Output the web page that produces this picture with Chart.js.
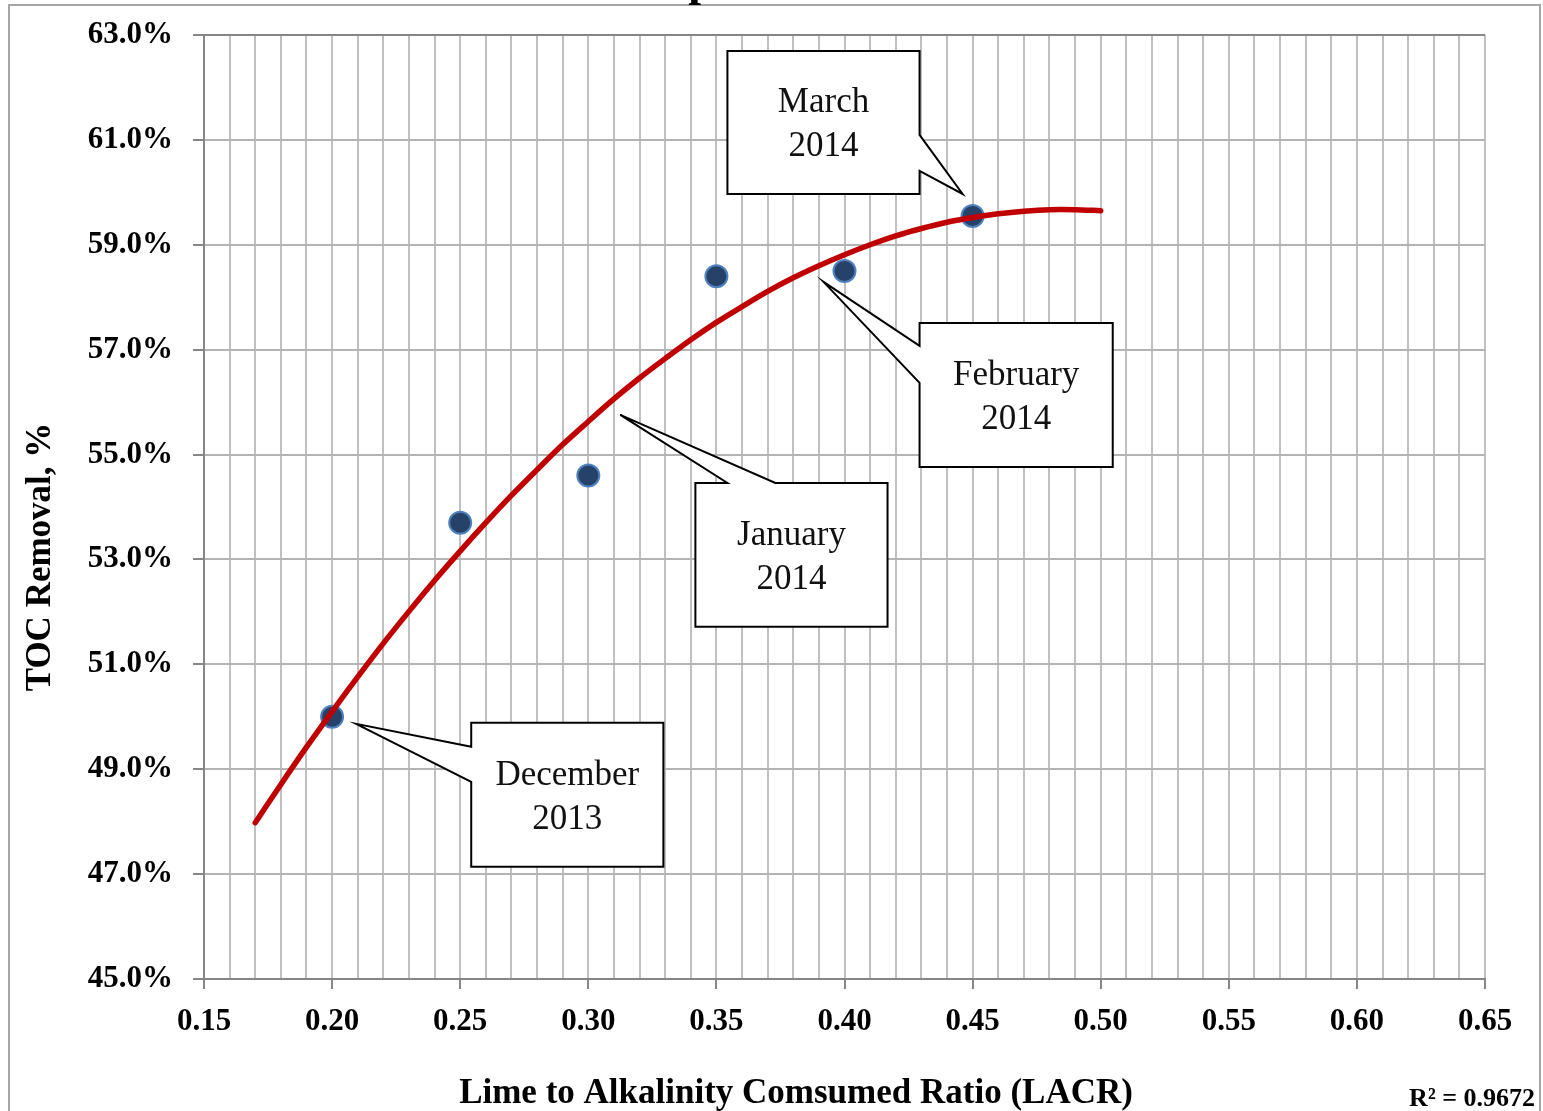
<!DOCTYPE html>
<html>
<head>
<meta charset="utf-8">
<script src="https://cdn.jsdelivr.net/npm/chart.js@4.4.1/dist/chart.umd.min.js"></script>
<style>
  html, body { margin: 0; padding: 0; background: #ffffff; }
  canvas { display: block; }
</style>
</head>
<body>
<canvas id="chart" width="1543" height="1111" style="width:1543px;height:1111px"></canvas>
<script>
// Monthly observations: lime-to-alkalinity consumed ratio vs TOC removal (%)
const lacr = [0.20, 0.25, 0.30, 0.35, 0.40, 0.45];
const tocRemoval = [50.0, 53.7, 54.6, 58.4, 58.5, 59.55];

// Polynomial trend line, read along its length
const trendLacr = [0.17, 0.18, 0.19, 0.20, 0.21, 0.22, 0.23, 0.24, 0.25, 0.26, 0.27,
                   0.28, 0.29, 0.30, 0.31, 0.32, 0.33, 0.34, 0.35, 0.36, 0.37, 0.38,
                   0.39, 0.40, 0.41, 0.42, 0.43, 0.44, 0.45, 0.46, 0.47, 0.48, 0.49, 0.50];
const trendToc = [47.98, 48.71, 49.42, 50.10, 50.76, 51.40, 52.01, 52.60, 53.16, 53.70, 54.22,
                  54.71, 55.19, 55.63, 56.06, 56.46, 56.83, 57.19, 57.52, 57.82, 58.11, 58.37,
                  58.60, 58.81, 59.00, 59.17, 59.31, 59.43, 59.52, 59.59, 59.64, 59.67, 59.67, 59.65];

// Axis tick labels
const xTickLabels = ['0.15', '0.20', '0.25', '0.30', '0.35', '0.40', '0.45', '0.50', '0.55', '0.60', '0.65'];
const yTickLabels = ['45.0%', '47.0%', '49.0%', '51.0%', '53.0%', '55.0%', '57.0%', '59.0%', '61.0%', '63.0%'];

// Callout texts
const calloutLabels = [['March', '2014'], ['February', '2014'], ['January', '2014'], ['December', '2013']];

const xTitle = 'Lime to Alkalinity Comsumed Ratio (LACR)';
const yTitle = 'TOC Removal, %';
const rSquaredText = 'R\u00B2 = 0.9672';
const titleFragment = 'p';

// Callout geometry in data units: box edges, side the pointer leaves from,
// the two base points of the pointer on that side, and the pointer tip.
const calloutGeometry = [
  { x0: 0.3543, x1: 0.4293, y0: 62.695, y1: 59.969, side: 'right', a: 61.094, b: 60.408, tip: [0.4461, 59.969] },
  { x0: 0.4293, x1: 0.5047, y0: 57.510, y1: 54.765, side: 'left',  a: 57.072, b: 56.366, tip: [0.3918, 58.292] },
  { x0: 0.3418, x1: 0.4168, y0: 54.460, y1: 51.715, side: 'top',   a: 0.3543, b: 0.3730, tip: [0.3125, 55.756] },
  { x0: 0.2543, x1: 0.3293, y0: 49.885, y1: 47.140, side: 'left',  a: 49.428, b: 48.761, tip: [0.2094, 49.866] }
];

const SERIF = '"Liberation Serif", "Times New Roman", serif';

const pagePlugin = {
  id: 'pageDecor',
  beforeDraw(chart) {
    const ctx = chart.ctx;
    ctx.save();
    ctx.fillStyle = '#ffffff';
    ctx.fillRect(0, 0, chart.width, chart.height);
    ctx.restore();
  },
  afterDatasetsDraw(chart) {
    const ctx = chart.ctx;
    const xs = chart.scales.x, ys = chart.scales.y;
    ctx.save();
    calloutGeometry.forEach((g, i) => {
      const L = xs.getPixelForValue(g.x0), R = xs.getPixelForValue(g.x1);
      const T = ys.getPixelForValue(g.y0), B = ys.getPixelForValue(g.y1);
      const tx = xs.getPixelForValue(g.tip[0]), ty = ys.getPixelForValue(g.tip[1]);
      let pts;
      if (g.side === 'left') {
        const pa = ys.getPixelForValue(g.a), pb = ys.getPixelForValue(g.b);
        pts = [[L, T], [R, T], [R, B], [L, B], [L, pb], [tx, ty], [L, pa]];
      } else if (g.side === 'right') {
        const pa = ys.getPixelForValue(g.a), pb = ys.getPixelForValue(g.b);
        pts = [[L, T], [R, T], [R, pa], [tx, ty], [R, pb], [R, B], [L, B]];
      } else {
        const pa = xs.getPixelForValue(g.a), pb = xs.getPixelForValue(g.b);
        pts = [[L, T], [pa, T], [tx, ty], [pb, T], [R, T], [R, B], [L, B]];
      }
      ctx.beginPath();
      pts.forEach((p, k) => (k ? ctx.lineTo(p[0], p[1]) : ctx.moveTo(p[0], p[1])));
      ctx.closePath();
      ctx.fillStyle = '#ffffff';
      ctx.fill();
      ctx.lineWidth = 2;
      ctx.strokeStyle = '#000000';
      ctx.lineJoin = 'miter';
      ctx.stroke();

      const cx = (L + R) / 2, cy = (T + B) / 2;
      ctx.fillStyle = '#111111';
      ctx.font = '35px ' + SERIF;
      ctx.textAlign = 'center';
      ctx.textBaseline = 'alphabetic';
      ctx.fillText(calloutLabels[i][0], cx, cy - 10);
      ctx.fillText(calloutLabels[i][1], cx, cy + 34);
    });
    ctx.restore();
  },
  afterDraw(chart) {
    const ctx = chart.ctx;
    ctx.save();
    // axis titles
    ctx.fillStyle = '#000000';
    ctx.font = 'bold 35px ' + SERIF;
    ctx.textAlign = 'center';
    ctx.textBaseline = 'alphabetic';
    ctx.fillText(xTitle, 796, 1103);
    ctx.save();
    ctx.translate(50, 557);
    ctx.rotate(-Math.PI / 2);
    ctx.fillText(yTitle, 0, 0);
    ctx.restore();

    // fit statistic
    ctx.font = 'bold 26px ' + SERIF;
    ctx.textAlign = 'right';
    ctx.fillText(rSquaredText, 1535, 1106);

    // outer frame
    ctx.strokeStyle = '#a6a6a6';
    ctx.lineWidth = 2;
    ctx.strokeRect(9, 5, 1531, 2000);

    // chart title, mostly above the page edge
    ctx.fillStyle = '#000000';
    ctx.font = 'bold 46px ' + SERIF;
    ctx.textAlign = 'center';
    ctx.fillText(titleFragment, 701, -5);
    ctx.restore();
  }
};

const AXIS_GREY = '#868686';
const GRID_GREY = '#c0c0c0';

new Chart(document.getElementById('chart'), {
  type: 'scatter',
  data: {
    datasets: [
      {
        label: 'Trend',
        data: trendLacr.map((x, i) => ({ x, y: trendToc[i] })),
        showLine: true,
        borderColor: '#c00000',
        backgroundColor: '#c00000',
        borderWidth: 5.5,
        borderCapStyle: 'round',
        borderJoinStyle: 'round',
        tension: 0.3,
        pointRadius: 0,
        pointHoverRadius: 0,
        order: 0
      },
      {
        label: 'TOC Removal',
        data: lacr.map((x, i) => ({ x, y: tocRemoval[i] })),
        showLine: false,
        pointRadius: 11,
        pointHoverRadius: 11,
        pointBackgroundColor: '#264269',
        pointBorderColor: '#4f81bd',
        pointBorderWidth: 2,
        order: 1
      }
    ]
  },
  plugins: [pagePlugin],
  options: {
    responsive: false,
    devicePixelRatio: 1,
    animation: false,
    events: [],
    layout: { padding: { top: 35, right: 58, left: 0, bottom: 0 } },
    plugins: {
      legend: { display: false },
      tooltip: { enabled: false },
      title: { display: false }
    },
    scales: {
      x: {
        type: 'linear',
        min: 0.15,
        max: 0.65,
        afterFit(scale) { scale.height = 132; },
        ticks: {
          stepSize: 0.01,
          autoSkip: false,
          maxRotation: 0,
          padding: 14,
          color: '#000000',
          font: { family: SERIF, size: 31, weight: 'bold' },
          callback(v) {
            const k = Math.round(v * 100);
            return k % 5 === 0 ? xTickLabels[(k - 15) / 5] : '';
          }
        },
        grid: {
          color: GRID_GREY,
          lineWidth: 2,
          tickLength: 10,
          tickWidth: 2,
          tickColor(ctx) {
            const k = Math.round(ctx.tick.value * 100);
            return k % 5 === 0 ? AXIS_GREY : 'rgba(0,0,0,0)';
          }
        },
        border: { display: true, color: AXIS_GREY, width: 2 }
      },
      y: {
        type: 'linear',
        min: 45,
        max: 63,
        afterFit(scale) {
          scale.width = 204;
          scale.paddingTop = 0;
          scale.paddingBottom = 0;
        },
        ticks: {
          stepSize: 2,
          padding: 20,
          color: '#000000',
          font: { family: SERIF, size: 31, weight: 'bold' },
          callback(v) { return yTickLabels[Math.round((v - 45) / 2)]; }
        },
        grid: {
          color(ctx) { return ctx.tick && ctx.tick.value === 63 ? AXIS_GREY : '#b4b4b4'; },
          lineWidth: 2,
          tickLength: 11,
          tickWidth: 2,
          tickColor: AXIS_GREY
        },
        border: { display: true, color: AXIS_GREY, width: 2 }
      }
    }
  }
});
</script>
</body>
</html>
